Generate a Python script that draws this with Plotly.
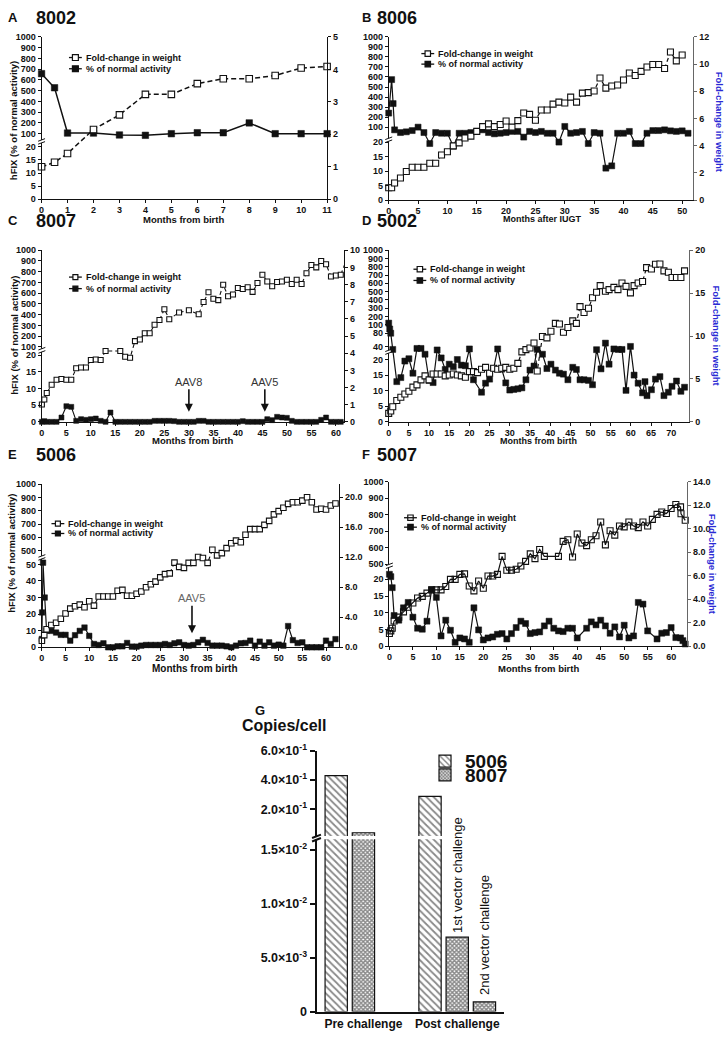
import numpy as np
import plotly.graph_objects as go

W, H = 728, 1037
FONT = "Liberation Sans, Arial, Helvetica, sans-serif"
INK = "#111111"
GREY = "#666666"
BLUE = "#2a2ad4"

# ======================= DATA =======================
# --- A : 8002 ---
a_weight_months = [0, 0.5, 1, 2, 3, 4, 5, 6, 7, 8, 9, 10, 11]
a_weight = [1.0, 1.14, 1.41, 2.15, 2.6, 3.23, 3.23, 3.56, 3.71, 3.71, 3.81, 4.04, 4.09]
a_activity_months = [0, 0.5, 1, 2, 3, 4, 5, 6, 7, 8, 9, 10, 11]
a_activity = [658, 527, 106, 106, 88, 85, 100, 109, 109, 200, 100, 100, 100]

# --- B : 8006 ---
b_weight_months = [0, 0.5] + list(range(1, 51))
b_weight = [0.9, 0.9, 1.25, 1.62, 2.1, 2.41, 2.41, 2.41, 2.7, 2.7, 3.31, 3.55,
            3.98, 4.2, 4.56, 4.7, 5.05, 5.4, 5.6, 5.4, 5.55, 5.81,
            5.36, 5.84, 6.4, 6.3, 5.87, 6.62, 6.62, 7.05, 7.2, 7.13,
            7.57, 7.2, 7.86, 7.9, 8.02, 8.97, 8.23, 8.38, 8.46, 8.83,
            9.34, 9.16, 9.46, 9.78, 9.97, 9.97, 9.67, 10.89, 10.23, 10.67]
b_activity_months = [0, 0.5, 0.75] + list(range(1, 52))
b_activity = [240, 574, 335,
              81, 62, 67, 76, 100, 62, 19.5, 62, 57, 57,
              18.6, 57, 57, 62, 70, 81, 62, 53, 57, 62,
              70, 70, 30, 70, 62, 70, 57, 57, 20, 107,
              57, 62, 70, 19.5, 62, 57, 11, 11.8, 57, 57,
              70, 19.5, 19.5, 57, 76, 76, 81, 74, 70, 74, 57]

# --- C : 8007 ---
c_weight_months = [0, 0.5, 1, 2, 3, 4, 5, 6, 7, 8, 9, 10, 11, 12, 13, 16, 17, 18, 19, 20,
                   21, 22, 23, 24, 25, 26, 28, 30, 32, 33, 34, 35, 36, 37, 38, 39, 40,
                   41, 42, 43, 44, 45, 46, 47, 48, 49, 50, 51, 52, 53, 54, 55, 56, 57,
                   58, 59, 60, 61, 62]
c_weight = [1.01, 1.3, 1.68, 2.16, 2.45, 2.5, 2.45, 2.45, 3.12, 3.17, 3.17, 3.6, 3.63, 3.6,
            4.13, 4.13, 3.79, 3.73, 4.7, 4.8, 5.16, 5.16, 5.66, 5.93, 6.56, 5.98,
            6.37, 6.5, 6.27, 6.98, 7.55, 7.17, 7.09, 7.99, 7.32, 7.42, 7.8, 7.74, 7.84,
            7.57, 8.09, 8.57, 8.18, 7.9, 8.15, 8.18, 8.28, 8.03, 8.28, 8.03, 8.66, 9.14,
            9.0, 9.37, 9.18, 8.47, 8.53, 8.57, 9.33]
c_activity_months = [0, 0.5] + list(range(1, 63))
c_activity = [0, 0.2,
              0, 0, 0, 1.3, 4.7, 4.5, 0.3, 0.8, 0.6, 0.8,
              1.0, 0.3, 0, 2.8, 0, 0, 0, 0, 0, 0,
              0, 0, 0.3, 0.3, 0.3, 0.3, 0.2, 0, 0, 0,
              0, 0.3, 0.3, 0, 0, 0, 0, 0, 0, 0,
              0.2, 0, 0, 0, 0, 0.8, 0.5, 1.5, 1.3, 1.2,
              0.3, 0, 0, 0, 0, 0, 0.6, 1.3, 0, 0,
              0, 0]

# --- D : 5002 ---
d_weight_months = [0, 0.5] + list(range(1, 37)) + [
    36.8, 38.1, 39.2, 40.2, 41.3, 42.3, 43.3, 44.4, 45.6, 46.5, 47.4, 48.4, 49.5, 50.5,
    51.5, 52.4, 53.7, 54.6, 55.8, 56.8, 57.8, 58.8, 59.9, 60.8, 61.8, 62.9, 63.9, 65.1,
    66.1, 67.2, 68.2, 69.3, 70.2, 71.3, 72.4, 73.3]
d_weight = [0.99, 1.26, 1.75, 2.48, 2.87, 3.25, 3.56, 4.05, 4.31, 4.89, 5.35, 4.89,
            5.58, 5.58, 5.58, 5.35, 5.46, 5.58, 5.46, 5.35, 5.2, 5.85,
            5.85, 5.73, 6.12, 6.35, 5.66, 6.24, 6.12, 6.24, 6.35, 6.12,
            6.24, 6.81, 8.15, 8.41, 8.6, 9.18,
            5.92, 9.94, 9.79, 10.55, 11.47, 11.4, 10.44, 11.0, 11.77, 11.47, 13.43, 12.74,
            13.23, 14.46, 15.1, 15.87, 15.21, 15.41, 15.67, 15.41, 16.18, 15.79, 15.03,
            15.87, 16.18, 16.36, 17.97, 17.82, 18.36, 18.4, 17.59, 17.44, 16.82, 16.82,
            16.82, 17.59]
d_activity_months = [0, 0.25, 0.5, 1, 2, 3, 4, 5, 6, 7, 8, 9, 10, 11, 12, 13, 14, 15, 16,
                     17, 18, 19, 20, 21, 23, 24, 25, 26, 27, 28, 29, 30, 31, 32, 33, 34,
                     35, 36,
                     36.8, 38.1, 39.2, 40.2, 41.3, 42.3, 43.3, 44.4, 45.6, 46.5, 47.4,
                     48.4, 49.5, 50.5, 51.5, 52.6, 53.7, 54.6, 55.8, 56.9, 57.8, 58.8,
                     59.9, 60.8, 61.8, 62.9, 63.5, 64.0, 65.1, 66.1, 67.2, 68.2, 69.3,
                     70.2, 71.3, 72.4, 73.3]
d_activity = [120, 90, 80, 28, 12.9, 14.2, 19.5, 20.3, 15.6, 32, 32, 22, 13.3, 12.6, 26,
              20.6, 16.8, 18.5, 17.7, 20, 18.2, 18.0, 30, 13.5, 9.5, 12.4, 13.7, 17.1,
              30, 16.9, 12.5, 10.2, 10.4, 10.6, 10.9, 13.5, 16.6, 17.9,
              28, 22, 17.1, 18.5, 16.6, 15.6, 15.3, 13.5, 17.5, 16.8, 13.5,
              13.5, 13.3, 11.9, 27, 17, 50, 18.5, 30, 28, 28, 10.1,
              40, 15.0, 12.4, 9.3, 12.9, 8.4, 10.3, 13.7, 14.5, 8.4, 9.5,
              11.4, 13.1, 9.8, 11.1]

# --- E : 5006 ---
e_weight_months = [0, 0.5] + list(range(1, 63))
e_weight = [0.88, 1.62, 2.4, 2.98, 3.28, 3.8, 4.5, 5.16, 5.47, 5.69, 5.34, 6.13,
            5.56, 6.78, 6.78, 6.78, 6.78, 7.53, 7.66, 6.87, 6.87, 7.13,
            7.44, 8.0, 8.4, 8.75, 9.32, 9.76, 9.85, 11.29, 10.72, 10.59,
            11.25, 11.25, 12.04, 11.9, 11.25, 13.0, 12.25, 12.56, 13.22, 13.87,
            14.22, 14.0, 15.01, 15.75, 15.75, 15.75, 16.32, 16.85, 17.72, 18.16,
            18.6, 19.12, 19.34, 19.34, 19.56, 20.0, 19.34, 18.38, 18.47, 18.38,
            18.9, 19.17]
e_activity_months = [0, 0.05, 0.25, 0.6, 1] + list(range(2, 63))
e_activity = [5, 21, 51, 30, 10,
              9.9, 8.9, 7.5, 7.5, 4.0, 7.3, 9.9, 11.9, 6.9,
              2.0, 1.4, 2.4, 0, 0, 0.6, 0.6, 2.6, 0.4, 0.4,
              1.0, 1.4, 1.4, 1.4, 1.4, 2.0, 1.4, 2.4, 3.0, 1.4,
              1.0, 1.4, 3.0, 4.5, 2.6, 1.0, 1.0, 1.0, 0.6, 0,
              1.0, 2.4, 2.6, 4.0, 1.0, 3.4, 1.0, 3.0, 1.0, 1.6,
              1.0, 12.8, 4.3, 2.6, 3.0, 0, 0, 0, 0, 4.0,
              2.0, 4.9]

# --- F : 5007 ---
f_weight_months = [0, 0.3, 0.6] + list(range(1, 34)) + list(range(36, 63)) + [62.1, 63]
f_weight = [1.09, 1.31, 1.53,
            2.15, 2.48, 2.93, 3.32, 3.68, 4.1, 4.24, 4.52, 4.8, 4.8,
            4.8, 5.08, 5.69, 5.69, 6.11, 6.16, 5.13, 4.71, 5.55, 4.94,
            5.97, 5.97, 6.11, 7.64, 6.47, 6.47, 6.55, 6.83, 7.22, 7.86,
            7.45, 8.23, 7.64,
            7.64, 8.92, 9.06, 7.59, 9.54, 8.78, 8.56, 9.06, 9.4, 10.57,
            8.62, 9.82, 9.45, 10.23, 10.15, 10.57, 10.23, 10.09, 10.57, 10.23,
            10.79, 11.21, 11.41, 11.29, 11.71, 12.05, 11.85,
            11.27, 10.71]
f_activity_months = [0, 0.3, 0.6] + list(range(1, 41)) + list(range(42, 56)) + [57, 58, 59, 60, 61, 62, 62.5, 63]
f_activity = [21.5, 20.8, 17.5,
              9.2, 7.8, 11.5, 13.1, 8.7, 5.4, 5.1, 7.5, 16.9, 14.6,
              3.1, 7.8, 4.8, 1.2, 2.5, 2.2, 1.2, 11.5, 4.9, 1.9,
              2.5, 2.8, 3.6, 3.8, 2.2, 3.8, 5.6, 7.5, 6.8, 3.8,
              4.1, 4.3, 6.1, 7.5, 5.4, 4.6, 4.4, 5.4, 5.4, 2.5,
              5.4, 7.3, 6.4, 7.8, 6.1, 3.9, 5.8, 2.8, 6.3, 2.5, 3.1, 13.1, 12.6, 4.6,
              2.2, 3.9, 4.1, 5.6, 2.6, 2.5, 1.7, 0.7]

# --- G : vector copies per cell ---
g_categories = ["Pre challenge", "Post challenge"]
g_5006 = [0.429, 0.2875]
g_8007_first = [0.0384, 0.0069]
g_8007_second = [None, 0.0009]

# ======================= HELPERS =======================
def pxx(p):
    return p / W


def pxy(p):
    return 1 - p / H


def fold(vals, lower, upper, base):
    """Broken-axis scale: values -> pixel height above the axis baseline."""
    lv, lp = zip(*lower)
    uv, up = zip(*upper)
    out = []
    for v in vals:
        if v is None:
            out.append(None)
            continue
        p = np.interp(v, lv, lp) if v <= lv[-1] else np.interp(v, uv, up)
        out.append(round(base - float(p), 3))
    return out


def ann(text, x, y, size, bold=True, color=INK, angle=0, xanchor="center", yanchor="middle"):
    return dict(text=text, x=pxx(x), y=pxy(y), xref="paper", yref="paper", showarrow=False,
                font=dict(family=FONT, size=size, color=color, weight="bold" if bold else "normal"),
                textangle=angle, xanchor=xanchor, yanchor=yanchor)


def seg(x0, y0, x1, y1, w=1.0, color=INK):
    return dict(type="line", xref="paper", yref="paper", x0=pxx(x0), y0=pxy(y0), x1=pxx(x1), y1=pxy(y1),
                line=dict(color=color, width=w), layer="above")


def box(x0, y0, x1, y1, fill="white", lw=0.0, color=INK):
    return dict(type="rect", xref="paper", yref="paper", x0=pxx(x0), y0=pxy(y1), x1=pxx(x1), y1=pxy(y0),
                fillcolor=fill, line=dict(width=lw, color=color), layer="above")


UP = [100, 200, 300, 400, 500, 600, 700, 800, 900, 1000]
panels = [
    dict(letter="A", name="8002", wm=a_weight_months, w=a_weight, am=a_activity_months, a=a_activity,
         x0=39.0, x1=327.7, xmax=11, top=28.3, bot=193.3,
         lower=[(0, 193.3), (21.5, 136.0)], upper=[(40, 133.2), (1000, 28.3)], gap=(133.0, 136.0),
         lticks=[0, 5, 10, 15, 20] + UP, rmax=5, rticks=[0, 1, 2, 3, 4, 5], rfmt="{:.0f}",
         xticks=list(range(0, 12)), ms=6.5, lw=1.5, dash="5px,3px", wsym="square", rline=INK,
         xtitle="Months from birth", xt=(183, 213.5, 9.5), ltitle=(10, 113), rtitle=None,
         leg=(81.7, 49.3, 60.7, 6.0), head=(3, 31, 8.5)),
    dict(letter="B", name="8006", wm=b_weight_months, w=b_weight, am=b_activity_months, a=b_activity,
         x0=390.0, x1=698.0, xmax=51.9, top=28.3, bot=194.0,
         lower=[(0, 194.0), (20.3, 134.3)], upper=[(20.3, 131.5), (100, 120.0), (1000, 28.3)],
         gap=(131.3, 134.3),
         lticks=[0, 5, 10, 15, 20] + UP, rmax=12, rticks=[0, 2, 4, 6, 8, 10, 12], rfmt="{:.0f}",
         xticks=list(range(0, 51, 5)), ms=6, lw=1.2, dash="4px,3px", wsym="square", rline=GREY,
         xtitle="Months after IUGT", xt=(545, 213.3, 9), ltitle=None, rtitle=(724.5, 115),
         leg=(438, 45.3, 56, 5.5), head=(361, 376.5, 8.5)),
    dict(letter="C", name="8007", wm=c_weight_months, w=c_weight, am=c_activity_months, a=c_activity,
         x0=39.3, x1=345.0, xmax=61.7, top=245.0, bot=419.3,
         lower=[(0, 419.3), (21, 348.3)], upper=[(85, 344.9), (1000, 245.0)], gap=(345.0, 348.3),
         lticks=[0, 5, 10, 15, 20] + UP, rmax=10, rticks=list(range(0, 11)), rfmt="{:.0f}",
         xticks=list(range(0, 61, 5)), ms=5, lw=1.1, dash="4px,3px", wsym="square", rline=INK,
         xtitle="Months from birth", xt=(191.7, 438.3, 9.5), ltitle=(12, 331), rtitle=None,
         leg=(81.7, 272.3, 284, 5.0), head=(3, 31, 215)),
    dict(letter="D", name="5002", wm=d_weight_months, w=d_weight, am=d_activity_months, a=d_activity,
         x0=390.0, x1=694.0, xmax=74.5, top=245.0, bot=419.3,
         lower=[(0, 419.3), (20, 356.0), (22.5, 349.3)],
         upper=[(24, 346.8), (40, 342.7), (80, 329.3), (100, 320.7), (1000, 245.0)],
         gap=(346.6, 349.5),
         lticks=[0, 5, 10, 15, 20, 40, 80] + UP, rmax=20, rticks=[0, 5, 10, 15, 20], rfmt="{:.0f}",
         xticks=list(range(0, 71, 5)), ms=6, lw=1.2, dash="4px,3px", wsym="square", rline=GREY,
         xtitle="Months from birth", xt=(541.5, 438.3, 9), ltitle=None, rtitle=(721, 331.7),
         leg=(430, 264.3, 275.7, 5.5), head=(361, 376.5, 215)),
    dict(letter="E", name="5006", wm=e_weight_months, w=e_weight, am=e_activity_months, a=e_activity,
         x0=39.3, x1=340.0, xmax=62.8, top=482.7, bot=648.3,
         lower=[(0, 648.3), (53.3, 558.5)], upper=[(455, 555.5), (500, 550.0), (1000, 482.7)],
         gap=(555.5, 558.5),
         lticks=[0, 10, 20, 30, 40, 50, 500, 600, 700, 800, 900, 1000], rmax=21.74,
         rticks=[0, 4, 8, 12, 16, 20], rfmt="{:.1f}",
         xticks=list(range(0, 61, 5)), ms=5.5, lw=1.2, dash="4px,3px", wsym="square", rline=INK,
         xtitle="Months from birth", xt=(194.5, 670, 10), ltitle=(8.5, 553), rtitle=None,
         leg=(64.0, 522.7, 532.7, 5.0), head=(3, 31, 452)),
    dict(letter="F", name="5007", wm=f_weight_months, w=f_weight, am=f_activity_months, a=f_activity,
         x0=390.7, x1=691.7, xmax=63.4, top=480.0, bot=647.3,
         lower=[(0, 647.3), (23.6, 567.0)], upper=[(490, 565.5), (1000, 480.0)], gap=(564.0, 567.0),
         lticks=[0, 5, 10, 15, 20, 500, 600, 700, 800, 900, 1000], rmax=14,
         rticks=[0, 2, 4, 6, 8, 10, 12, 14], rfmt="{:.1f}",
         xticks=list(range(0, 61, 5)), ms=6, lw=1.2, dash=None, wsym="square-open", rline=GREY,
         xtitle="Months from birth", xt=(541, 670, 9.5), ltitle=None, rtitle=(717.5, 564),
         leg=(420.5, 516.7, 526.3, 5.5), head=(361, 376.5, 452)),
]

fig = go.Figure()
layout = dict(width=W, height=H, margin=dict(l=0, r=0, t=0, b=0), paper_bgcolor="white",
              plot_bgcolor="rgba(0,0,0,0)", barmode="group", bargap=0.13, bargroupgap=0.18,
              font=dict(family=FONT, color=INK))
annotations, shapes = [], []

tickfont = dict(family=FONT, size=9, color=INK, weight="bold")
base_axis = dict(showgrid=False, zeroline=False, showline=True, linewidth=1, ticks="outside",
                 ticklen=3, tickwidth=1, tickcolor=INK, linecolor=INK, tickfont=tickfont,
                 fixedrange=True)

for k, P in enumerate(panels):
    xi, yl, yr = k + 1, 2 * k + 1, 2 * k + 2
    xa = "x" if xi == 1 else f"x{xi}"
    yla = "y" if yl == 1 else f"y{yl}"
    yra = f"y{yr}"
    xkey = "xaxis" if xi == 1 else f"xaxis{xi}"
    ylkey = "yaxis" if yl == 1 else f"yaxis{yl}"
    yrkey = f"yaxis{yr}"
    height = P["bot"] - P["top"]
    ydom = [pxy(P["bot"]), pxy(P["top"])]

    layout[xkey] = dict(base_axis, domain=[pxx(P["x0"]), pxx(P["x1"])], range=[0, P["xmax"]],
                        tickmode="array", tickvals=P["xticks"], ticktext=[str(t) for t in P["xticks"]],
                        anchor=yla, ticklabelstandoff=-1)
    layout[ylkey] = dict(base_axis, domain=ydom, range=[0, height], anchor=xa, tickmode="array",
                         tickvals=fold(P["lticks"], P["lower"], P["upper"], P["bot"]),
                         ticktext=[str(t) for t in P["lticks"]])
    layout[yrkey] = dict(base_axis, domain=ydom, range=[0, P["rmax"]], anchor=xa, overlaying=yla,
                         side="right", tickmode="array", tickvals=P["rticks"],
                         ticktext=[P["rfmt"].format(t) for t in P["rticks"]],
                         linecolor=P["rline"], tickcolor=P["rline"])

    fig.add_trace(go.Scatter(
        x=P["am"], y=fold(P["a"], P["lower"], P["upper"], P["bot"]), xaxis=xa, yaxis=yla,
        mode="lines+markers", name="% of normal activity", showlegend=False, cliponaxis=False,
        line=dict(color=INK, width=P["lw"]),
        marker=dict(symbol="square", size=P["ms"], color=INK, line=dict(color=INK, width=0.5))))
    wline = dict(color=INK, width=P["lw"])
    if P["dash"]:
        wline["dash"] = P["dash"]
    wmarker = dict(symbol=P["wsym"], size=P["ms"], color="white" if P["wsym"] == "square" else INK,
                   line=dict(color=INK, width=1.1))
    fig.add_trace(go.Scatter(
        x=P["wm"], y=P["w"], xaxis=xa, yaxis=yra, mode="lines+markers", name="Fold-change in weight",
        showlegend=False, cliponaxis=False, line=wline, marker=wmarker))

    # in-plot key (symbol + label) for the two series
    tx, yw, ya, sq = P["leg"]
    sx = tx - 8.5
    h = sq / 2
    for yy, fill, label in ((yw, "white", "Fold-change in weight"), (ya, INK, "% of normal activity")):
        shapes.append(seg(sx - 6.5, yy, sx + 6.5, yy, w=1.3))
        if label.startswith("Fold") and P["wsym"] == "square-open":
            shapes.append(box(sx - h, yy - h, sx + h, yy + h, fill="rgba(0,0,0,0)", lw=1.2))
        else:
            shapes.append(box(sx - h, yy - h, sx + h, yy + h, fill=fill, lw=1.2))
        annotations.append(ann(label, tx, yy, 9, xanchor="left"))

    # panel heading
    lx, nx, hy = P["head"]
    annotations.append(ann(P["letter"], lx, hy, 13, xanchor="left"))
    annotations.append(ann(P["name"], nx, hy + 0.5, 18, xanchor="left"))
    # axis titles
    xtx, xty, xts = P["xt"]
    annotations.append(ann(P["xtitle"], xtx, xty, xts))
    if P["ltitle"]:
        annotations.append(ann("hFIX (% of normal activity)", P["ltitle"][0], P["ltitle"][1], 9.5,
                               angle=-90))
    if P["rtitle"]:
        annotations.append(ann("Fold-change in weight", P["rtitle"][0], P["rtitle"][1], 9.5,
                               color=BLUE, angle=90))
    # axis break on the left axis
    g0, g1 = P["gap"]
    x0 = P["x0"]
    shapes.append(box(x0 - 2, g0, x0 + 2, g1))
    shapes.append(seg(x0 - 3.5, g0 + 1.3, x0 + 3.5, g0 - 1.3))
    shapes.append(seg(x0 - 3.5, g1 + 1.3, x0 + 3.5, g1 - 1.3))

# vector-challenge arrows
C, E = panels[2], panels[4]
for label, mo in (("AAV8", 30), ("AAV5", 45.5)):
    annotations.append(dict(text=label, x=mo, y=C["bot"] - 409, xref="x3", yref="y5", showarrow=True,
                            ax=0, ay=-30, arrowhead=2, arrowsize=1, arrowwidth=1.6, arrowcolor=INK,
                            standoff=0, font=dict(family=FONT, size=11, color="#333333")))
annotations.append(dict(text="AAV5", x=31.7, y=E["bot"] - 634, xref="x5", yref="y9", showarrow=True,
                        ax=0, ay=-35, arrowhead=2, arrowsize=1, arrowwidth=1.6, arrowcolor=INK,
                        standoff=0, font=dict(family=FONT, size=11, color="#666666")))

# ======================= PANEL G =======================
g_top, g_bot = 753.3, 1018.3
g_lower = [(0, 1018.3), (0.016, 843.0)]
g_upper = [(0.016, 840.0), (0.6, 753.3)]
g_ticks = [0, 0.005, 0.01, 0.015, 0.2, 0.4, 0.6]
g_ticktext = ["0", "5.0×10<sup>-3</sup>", "1.0×10<sup>-2</sup>", "1.5×10<sup>-2</sup>",
              "2.0×10<sup>-1</sup>", "4.0×10<sup>-1</sup>", "6.0×10<sup>-1</sup>"]
gx0, gx1 = 317.0, 506.7

hatch = dict(color="white", line=dict(color=INK, width=1.2),
             pattern=dict(shape="\\", fgcolor=INK, bgcolor="white", size=5, solidity=0.35))
check = dict(color="white", line=dict(color=INK, width=1.2),
             pattern=dict(shape="x", fgcolor="#111111", bgcolor="white", size=3, solidity=0.7))
fig.add_trace(go.Bar(x=g_categories, y=fold(g_5006, g_lower, g_upper, g_bot), name="5006",
                     xaxis="x7", yaxis="y13", marker=hatch, legend="legend"))
fig.add_trace(go.Bar(x=g_categories, y=fold(g_8007_first, g_lower, g_upper, g_bot), name="8007",
                     xaxis="x7", yaxis="y13", marker=check, legend="legend2"))
fig.add_trace(go.Bar(x=g_categories, y=fold(g_8007_second, g_lower, g_upper, g_bot), name="8007 (2nd)",
                     xaxis="x7", yaxis="y13", marker=check, showlegend=False))

layout["xaxis7"] = dict(showgrid=False, zeroline=False, showline=True, linewidth=2, linecolor=INK,
                        ticks="", type="category", range=[-0.5, 1.5], domain=[pxx(gx0), pxx(gx1)],
                        anchor="y13", fixedrange=True,
                        tickfont=dict(family=FONT, size=12, color=INK, weight="bold"))
layout["yaxis13"] = dict(showgrid=False, zeroline=False, showline=True, linewidth=2, linecolor=INK,
                         ticks="outside", ticklen=5, tickwidth=2, tickcolor=INK,
                         domain=[pxy(g_bot), pxy(g_top)], range=[0, g_bot - g_top], anchor="x7",
                         tickmode="array", tickvals=fold(g_ticks, g_lower, g_upper, g_bot),
                         ticktext=g_ticktext, fixedrange=True,
                         tickfont=dict(family=FONT, size=12.5, color=INK, weight="bold"))
for nm, yy in (("legend", 764), ("legend2", 778)):
    layout[nm] = dict(x=pxx(466.7 - 40), y=pxy(yy), xanchor="left", yanchor="middle",
                      bgcolor="rgba(0,0,0,0)", borderwidth=0, itemwidth=30, tracegroupgap=0,
                      font=dict(family=FONT, size=19, color=INK, weight="bold"))

shapes.append(box(gx0 - 3, 840.0, gx1, 843.2))
shapes.append(seg(gx0 - 4.5, 842.0, gx0 + 4.5, 838.5, w=2))
shapes.append(seg(gx0 - 4.5, 845.5, gx0 + 4.5, 842.0, w=2))

annotations.append(ann("G", 253, 712, 13, xanchor="left"))
annotations.append(ann("Copies/cell", 240, 727.5, 16, xanchor="left"))
annotations.append(ann("1st vector challenge", 458.8, 879.7, 13, bold=False, angle=-90))
annotations.append(ann("2nd vector challenge", 487.0, 940.8, 13, bold=False, angle=-90))

layout["annotations"] = annotations
layout["shapes"] = shapes
fig.update_layout(**layout)
fig.write_html("out.html", config={"displayModeBar": False},
               post_script="document.body.style.margin='0';document.body.style.padding='0';"
                           "document.documentElement.style.overflow='hidden';")
